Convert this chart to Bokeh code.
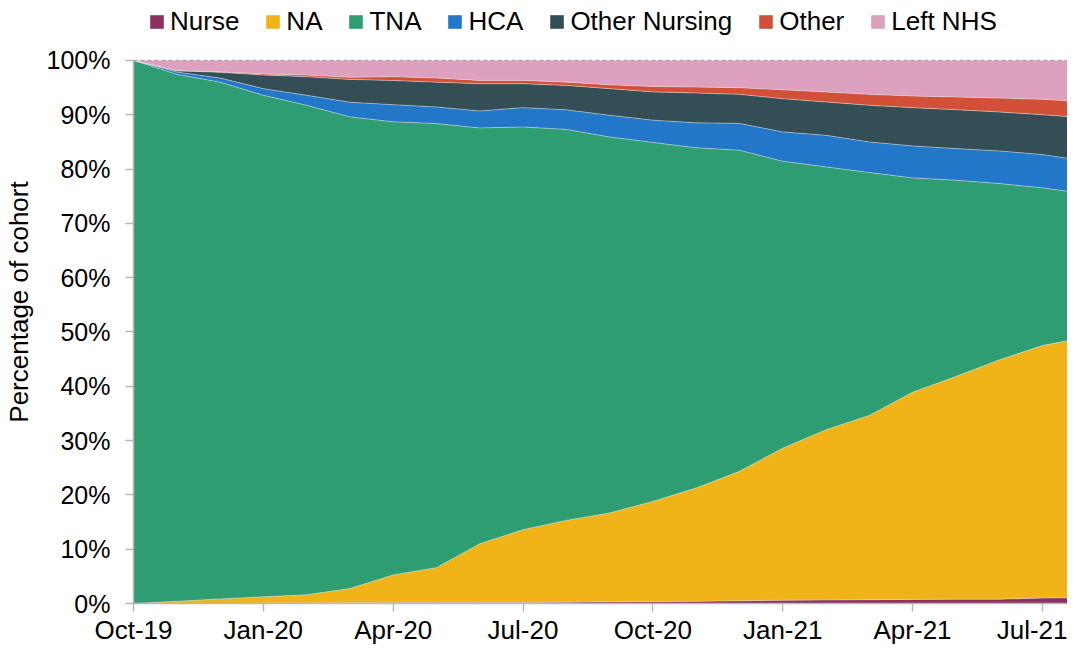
from bokeh.plotting import figure
from bokeh.models import ColumnDataSource, Range1d, FixedTicker, PrintfTickFormatter, Legend, Span
from bokeh.transform import stack
from bokeh.embed import file_html
from bokeh.resources import INLINE

# Months Oct-19 .. Aug-21 (index 0 = Oct-19)
months = ["Oct-19", "Nov-19", "Dec-19", "Jan-20", "Feb-20", "Mar-20", "Apr-20", "May-20",
          "Jun-20", "Jul-20", "Aug-20", "Sep-20", "Oct-20", "Nov-20", "Dec-20", "Jan-21",
          "Feb-21", "Mar-21", "Apr-21", "May-21", "Jun-21", "Jul-21", "Aug-21"]
tick_labels = ["Oct-19", "Jan-20", "Apr-20", "Jul-20", "Oct-20", "Jan-21", "Apr-21", "Jul-21"]

nurse = [0, 0, 0, 0.05, 0.1, 0.15, 0.2, 0.2, 0.2, 0.2, 0.25, 0.3, 0.35, 0.4, 0.5, 0.6,
         0.65, 0.7, 0.75, 0.8, 0.8, 1.0, 1.1]
na = [0, 0.4, 0.85, 1.18, 1.5, 2.61, 5.07, 6.4, 10.8, 13.4, 15.05, 16.37, 18.45, 20.86,
      23.83, 28.0, 31.34, 33.92, 38.15, 41.0, 44.05, 46.49, 47.94]
tna = [100, 97.03, 95.15, 92.34, 90.13, 86.84, 83.43, 81.76, 76.56, 74.14, 72.0, 69.23,
       66.1, 62.64, 59.13, 52.83, 48.4, 44.73, 39.47, 36.14, 32.48, 29.04, 26.4]
hca = [0, 0.42, 0.75, 1.23, 1.84, 2.7, 3.15, 3.06, 3.14, 3.56, 3.6, 4.0, 4.1, 4.6, 4.94,
       5.4, 5.81, 5.64, 5.88, 5.82, 6.0, 6.13, 6.05]
other_nursing = [0, 0.25, 1.05, 2.5, 3.43, 4.2, 4.45, 4.58, 5.0, 4.4, 4.5, 4.9, 5.2, 5.5,
                 5.35, 6.12, 6.14, 6.74, 7.05, 7.17, 7.17, 7.34, 7.9]
other = [0, 0, 0.1, 0.2, 0.3, 0.4, 0.7, 0.75, 0.62, 0.62, 0.6, 0.7, 1.0, 1.1, 1.22, 1.65,
         1.84, 2.02, 2.15, 2.33, 2.57, 2.83, 2.97]
left_nhs = [0, 1.9, 2.1, 2.5, 2.7, 3.1, 3.0, 3.25, 3.68, 3.68, 4.0, 4.5, 4.8, 4.9, 5.03,
            5.4, 5.82, 6.25, 6.55, 6.74, 6.93, 7.17, 7.64]

series_names = ["Nurse", "NA", "TNA", "HCA", "Other Nursing", "Other", "Left NHS"]
colors = ["#8E3160", "#F1B418", "#2E9E72", "#2277C8", "#334E54", "#D25037", "#DDA0BF"]

keys = ["nurse", "na", "tna", "hca", "other_nursing", "other", "left_nhs"]
data = dict(x=list(range(len(months))), nurse=nurse, na=na, tna=tna, hca=hca,
            other_nursing=other_nursing, other=other, left_nhs=left_nhs)
source = ColumnDataSource(data)

FONT = "Liberation Sans"

# frame spans the whole height above the x axis; the area above 100% holds the legend
p = figure(width=1067, height=647, output_backend="svg", toolbar_location=None,
           x_range=Range1d(0, 21.58), y_range=Range1d(0, 111.03),
           min_border_left=131, min_border_right=0, min_border_top=0, min_border_bottom=43)
p.outline_line_color = None
p.background_fill_color = "white"
p.grid.visible = False

renderers = p.varea_stack(stackers=keys, x="x", color=colors, source=source)
for k in range(1, len(keys)):
    p.line(x="x", y=stack(*keys[:k]), source=source, line_color="#e6e6e6",
           line_alpha=0.6, line_width=0.8)

top = Span(location=100, dimension="width", line_color="#aaaaaa", line_dash="4 3",
           line_width=1.2, level="overlay")
p.add_layout(top)

legend = Legend(items=[(n, [r]) for n, r in zip(series_names, renderers)],
                orientation="horizontal", location=(15, 566),
                label_text_font=FONT, label_text_font_size="26px",
                label_text_color="#000000",
                glyph_width=17, glyph_height=17, label_standoff=5, spacing=25,
                padding=0, margin=0, border_line_color=None, background_fill_alpha=0)
p.add_layout(legend)

# axes
p.xaxis.ticker = FixedTicker(ticks=[0, 3, 6, 9, 12, 15, 18, 21])
p.xaxis.major_label_overrides = {i * 3: lab for i, lab in enumerate(tick_labels)}
p.xaxis.minor_tick_line_color = None
p.xaxis.major_tick_out = 8
p.xaxis.major_tick_in = 0
p.xaxis.axis_line_color = "#b8b8b8"
p.xaxis.major_tick_line_color = "#b8b8b8"
p.xaxis.axis_line_width = 1.5
p.xaxis.major_tick_line_width = 1.5
p.xaxis.major_label_text_font = FONT
p.xaxis.major_label_text_font_size = "26px"
p.xaxis.major_label_text_color = "#000000"
p.xaxis.major_label_standoff = 3

p.yaxis.ticker = FixedTicker(ticks=list(range(0, 101, 10)))
p.yaxis.bounds = (0, 100)
p.yaxis.formatter = PrintfTickFormatter(format="%d%%")
p.yaxis.minor_tick_line_color = None
p.yaxis.major_tick_out = 8
p.yaxis.major_tick_in = 0
p.yaxis.axis_line_color = "#b8b8b8"
p.yaxis.major_tick_line_color = "#b8b8b8"
p.yaxis.axis_line_width = 1.5
p.yaxis.major_tick_line_width = 1.5
p.yaxis.major_label_text_font = FONT
p.yaxis.major_label_text_font_size = "25px"
p.yaxis.major_label_text_color = "#000000"
p.yaxis.major_label_standoff = 15
p.yaxis.axis_label = "Percentage of cohort"
p.yaxis.axis_label_text_font = FONT
p.yaxis.axis_label_text_font_size = "26px"
p.yaxis.axis_label_text_font_style = "normal"
p.yaxis.axis_label_text_color = "#000000"
p.yaxis.axis_label_standoff = 10

open("out.html", "w").write(file_html(p, INLINE))
